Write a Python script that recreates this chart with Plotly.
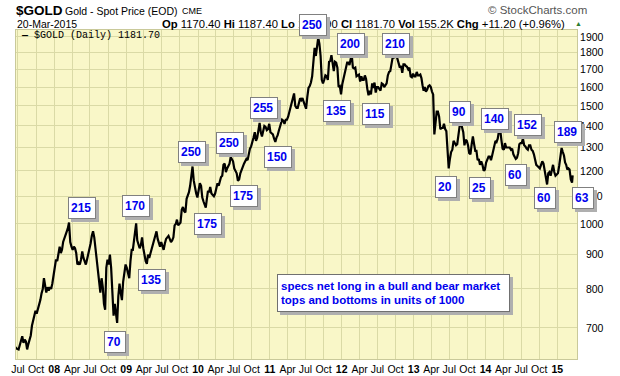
import math
import pandas as pd
import plotly.graph_objects as go

# ---------------- data (approximate weekly closes) ----------------
# gold_2007 starts in June; each inner list = closes within one month
gold_2007 = [
    [660, 652],
    [650, 662, 668, 680, 665],
    [672, 668, 650, 662, 672],
    [682, 705, 715, 728, 742],
    [735, 745, 760, 770, 788],
    [800, 830, 812, 790, 805],
    [795, 805, 800, 815, 834],
]
gold_2008 = [
    [860, 885, 880, 910, 925],
    [905, 915, 940, 950, 965],
    [975, 985, 1005, 940, 925],
    [915, 925, 920, 905, 870],
    [875, 870, 885, 910, 890],
    [880, 870, 885, 900, 925],
    [935, 960, 975, 955, 920],
    [900, 860, 820, 790, 830],
    [805, 760, 745, 860, 885],
    [870, 900, 860, 780, 730],
    [760, 740, 712, 780, 815],
    [790, 770, 820, 850, 870],
]
gold_2009 = [
    [860, 840, 830, 880, 915],
    [915, 940, 970, 1002, 945],
    [935, 920, 930, 955, 920],
    [895, 880, 872, 900, 890],
    [905, 920, 935, 950, 965],
    [975, 950, 935, 925, 940],
    [930, 915, 935, 950, 955],
    [960, 950, 940, 945, 955],
    [995, 1000, 1015, 995, 1000],
    [1005, 1050, 1060, 1045, 1040],
    [1090, 1100, 1115, 1140, 1175],
    [1218, 1160, 1125, 1110, 1095],
]
gold_2010 = [
    [1120, 1150, 1140, 1095, 1080],
    [1065, 1058, 1090, 1120, 1115],
    [1135, 1110, 1105, 1100, 1110],
    [1130, 1150, 1140, 1160, 1175],
    [1180, 1225, 1230, 1195, 1210],
    [1220, 1230, 1258, 1245, 1240],
    [1210, 1200, 1190, 1160, 1165],
    [1190, 1205, 1215, 1230, 1240],
    [1250, 1245, 1275, 1295, 1305],
    [1320, 1345, 1370, 1330, 1345],
    [1390, 1415, 1370, 1350, 1375],
    [1400, 1395, 1380, 1385, 1410],
]
gold_2011 = [
    [1370, 1365, 1360, 1340, 1325],
    [1345, 1355, 1375, 1395, 1410],
    [1430, 1425, 1410, 1430, 1430],
    [1445, 1470, 1490, 1505, 1535],
    [1565, 1500, 1490, 1490, 1525],
    [1540, 1530, 1540, 1520, 1500],
    [1485, 1545, 1595, 1605, 1625],
    [1660, 1745, 1830, 1780, 1830],
    [1895, 1855, 1780, 1640, 1620],
    [1640, 1665, 1660, 1640, 1745],
    [1750, 1785, 1720, 1690, 1745],
    [1740, 1710, 1600, 1605, 1560],
]
gold_2012 = [
    [1615, 1645, 1660, 1705, 1740],
    [1740, 1725, 1760, 1785, 1710],
    [1705, 1710, 1660, 1665, 1670],
    [1630, 1660, 1640, 1640, 1665],
    [1645, 1590, 1555, 1580, 1560],
    [1620, 1595, 1625, 1570, 1600],
    [1600, 1590, 1580, 1620, 1615],
    [1600, 1610, 1620, 1665, 1685],
    [1690, 1735, 1770, 1770, 1775],
    [1790, 1765, 1735, 1710, 1720],
    [1680, 1730, 1730, 1720, 1715],
    [1700, 1710, 1660, 1655, 1675],
]
gold_2013 = [
    [1660, 1660, 1685, 1665, 1665],
    [1670, 1650, 1610, 1580, 1600],
    [1575, 1585, 1605, 1610, 1600],
    [1575, 1560, 1360, 1420, 1470],
    [1470, 1445, 1385, 1390, 1390],
    [1410, 1385, 1375, 1290, 1210],
    [1250, 1280, 1290, 1330, 1320],
    [1310, 1315, 1365, 1400, 1415],
    [1390, 1370, 1310, 1335, 1330],
    [1310, 1275, 1270, 1315, 1350],
    [1315, 1285, 1285, 1245, 1250],
    [1225, 1240, 1225, 1200, 1205],
]
gold_2014 = [
    [1235, 1250, 1260, 1260, 1245],
    [1265, 1290, 1320, 1330, 1325],
    [1340, 1375, 1385, 1335, 1295],
    [1290, 1320, 1300, 1300, 1300],
    [1300, 1290, 1295, 1270, 1255],
    [1250, 1255, 1275, 1315, 1320],
    [1320, 1340, 1310, 1305, 1295],
    [1290, 1310, 1310, 1290, 1285],
    [1270, 1240, 1225, 1220, 1215],
    [1210, 1225, 1240, 1230, 1200],
    [1170, 1145, 1190, 1195, 1180],
    [1200, 1225, 1195, 1180, 1185],
]
gold_2015 = [
    [1190, 1220, 1260, 1298, 1280],
    [1265, 1235, 1225, 1205, 1210],
    [1205, 1165, 1152],
]
last_date = "2015-03-20"
last_close = 1181.70

quarter_labels = ["Jul", "Oct", "08", "Apr", "Jul", "Oct", "09", "Apr", "Jul", "Oct",
                  "10", "Apr", "Jul", "Oct", "11", "Apr", "Jul", "Oct", "12", "Apr",
                  "Jul", "Oct", "13", "Apr", "Jul", "Oct", "14", "Apr", "Jul", "Oct", "15"]
y_ticks = [700, 800, 900, 1000, 1100, 1200, 1300, 1400, 1500, 1600, 1700, 1800, 1900]

box_labels = ["215", "170", "135", "70", "250", "175", "250", "175", "255", "150",
              "250", "200", "210", "135", "115", "20", "90", "25", "140", "60",
              "152", "60", "189", "63"]
box_centers_px = [(82, 208), (136, 206), (152, 280), (115, 342), (192, 152), (208, 224),
                  (230, 143), (244, 196), (264, 108), (278, 157), (313, 25), (351, 44),
                  (396, 44), (337, 111), (376, 114), (446, 187), (460, 112), (480, 188),
                  (495, 119), (516, 175), (528, 125), (545, 198), (568, 132), (583, 198)]

# ---------------- build series ----------------
dates, closes = [], []
years = [(2007, 6, gold_2007), (2008, 1, gold_2008), (2009, 1, gold_2009),
         (2010, 1, gold_2010), (2011, 1, gold_2011), (2012, 1, gold_2012),
         (2013, 1, gold_2013), (2014, 1, gold_2014), (2015, 1, gold_2015)]
for yr, m0, months in years:
    for k, vals in enumerate(months):
        start = pd.Timestamp(year=yr, month=m0 + k, day=1)
        span = start.days_in_month
        if yr == 2015 and m0 + k == 3:
            span = 19
        n = len(vals)
        for i, v in enumerate(vals):
            dates.append(start + pd.Timedelta(days=(i + 0.5) * span / n))
            closes.append(v)
dates.append(pd.Timestamp(last_date))
closes.append(last_close)

quarter_dates = pd.date_range("2007-07-01", periods=len(quarter_labels), freq="QS")
x_ticktext = [f"<b>{t}</b>" if t.isdigit() else t for t in quarter_labels]
y_ticktext = [("\u00a0\u00a0" if v < 1000 else "") + str(v) for v in y_ticks]

# ---------------- figure ----------------
L, R, T, B = 16, 577, 30, 359
W, H = 620, 376


def pxx(x):
    return (x - L) / (R - L)


def pxy(y):
    return (B - y) / (B - T)


fig = go.Figure()
fig.add_trace(go.Scatter(x=dates, y=closes, mode="lines",
                         line=dict(color="black", width=2.2), hoverinfo="skip"))

grid = "#DADAA6"
fig.update_layout(
    width=W, height=H,
    margin=dict(l=L, r=W - R, t=T, b=H - B, autoexpand=False),
    paper_bgcolor="white",
    plot_bgcolor="#F9F7C8",
    showlegend=False,
    font=dict(family="Liberation Sans, Arial", color="black"),
    xaxis=dict(type="date", range=["2007-06-21", "2015-04-11"],
               tickvals=quarter_dates, ticktext=x_ticktext,
               tickfont=dict(size=10.5, color="black"),
               showgrid=True, gridcolor=grid, gridwidth=1, automargin=False,
               ticks="", showline=True, mirror=True, linecolor="#C9C99A",
               zeroline=False, fixedrange=True),
    yaxis=dict(type="log", side="right",
               range=[math.log10(629), math.log10(1946)],
               tickvals=y_ticks, ticktext=y_ticktext,
               tickfont=dict(size=10.5, color="black"),
               showgrid=True, gridcolor=grid, gridwidth=1, automargin=False,
               ticks="", showline=True, mirror=True, linecolor="#C9C99A",
               zeroline=False, fixedrange=True),
)

ann = []


def text(s, x, y, size, anchor="left", color="black", family="Liberation Sans, Arial"):
    ann.append(dict(text=s, x=pxx(x), y=pxy(y), xref="paper", yref="paper",
                    xanchor=anchor, yanchor="middle", showarrow=False,
                    font=dict(size=size, color=color, family=family)))


# header
text("<b>$GOLD</b>", 14, 10, 13.5)
text("Gold - Spot Price (EOD)", 63, 11, 10.5)
text("CME", 180, 11, 9)
text("20-Mar-2015", 15, 24, 10.5)
text("<b>Op</b> 1170.40 <b>Hi</b> 1187.40 <b>Lo</b> 1166.90 <b>Cl</b> 1181.70 "
     "<b>Vol</b> 155.2K <b>Chg</b> +11.20 (+0.96%)", 567, 24, 11.25, anchor="right")
text("▲", 573, 23, 7, color="#2E7D32")
text("© StockCharts.com", 486, 10, 11.5, color="#555555")
text("<b>—</b> $GOLD (Daily) 1181.70", 19, 36, 10, family="Liberation Mono, monospace")

# boxes: shadows first
for lab, (cx, cy) in zip(box_labels, box_centers_px):
    w = 22 if len(lab) == 3 else 16
    ann.append(dict(text=f"<b>{lab}</b>", x=pxx(cx), y=pxy(cy), xref="paper", yref="paper",
                    xanchor="center", yanchor="middle",
                    xshift=3, yshift=-3, showarrow=False, width=w, height=16,
                    align="left", valign="middle", bgcolor="#AFAFAF",
                    bordercolor="#AFAFAF", borderwidth=1, borderpad=2,
                    font=dict(size=12, color="#AFAFAF", family="Liberation Sans, Arial")))
for lab, (cx, cy) in zip(box_labels, box_centers_px):
    w = 22 if len(lab) == 3 else 16
    ann.append(dict(text=f"<b>{lab}</b>", x=pxx(cx), y=pxy(cy), xref="paper", yref="paper",
                    xanchor="center", yanchor="middle",
                    showarrow=False, width=w, height=16,
                    align="left", valign="middle", bgcolor="white",
                    bordercolor="#808080", borderwidth=1, borderpad=2,
                    font=dict(size=12, color="#0000EE", family="Liberation Sans, Arial")))

# note box
note = "<b>specs net long in a bull and bear market<br>tops and bottoms in units of 1000</b>"
for shadow in (True, False):
    ann.append(dict(text=note, x=pxx(393), y=pxy(293), xref="paper", yref="paper",
                    xanchor="center", yanchor="middle",
                    xshift=3 if shadow else 0, yshift=-3 if shadow else 0,
                    showarrow=False, width=225, height=30, align="left", valign="middle",
                    bgcolor="#AFAFAF" if shadow else "white",
                    bordercolor="#AFAFAF" if shadow else "#707070",
                    borderwidth=1, borderpad=3,
                    font=dict(size=11.5, color="#AFAFAF" if shadow else "#0000EE",
                              family="Liberation Sans, Arial")))

fig.update_layout(annotations=ann)
fig.write_html("out.html", config={"displayModeBar": False},
               post_script="document.body.style.margin='0px';"
                           "document.body.style.overflow='hidden';")
